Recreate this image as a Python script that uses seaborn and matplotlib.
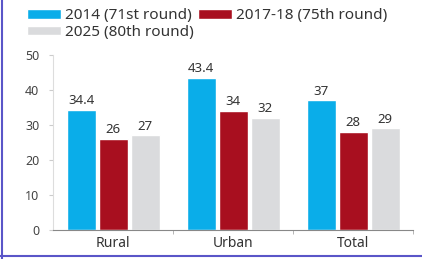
import pandas as pd
import numpy as np
import matplotlib.pyplot as plt
import seaborn as sns
from matplotlib.lines import Line2D

# data
areas = ['Rural', 'Urban', 'Total']
rounds = ['2014 (71st round)', '2017-18 (75th round)', '2025 (80th round)']
r2014 = [34.4, 43.4, 37]
r2017 = [26, 34, 28]
r2025 = [27, 32, 29]
colors = ['#0AADE9', '#A80F1F', '#DADBDD']

df = pd.DataFrame({
    'area': areas * 3,
    'round': np.repeat(rounds, 3),
    'value': r2014 + r2017 + r2025,
})

sns.set_style('white')
plt.rcParams['font.family'] = ['Noto Sans', 'DejaVu Sans']

fig = plt.figure(figsize=(4.22, 2.59), dpi=100)
ax = fig.add_axes([0.126, 0.112, 0.853, 0.676])

sns.barplot(data=df, x='area', y='value', hue='round', palette=colors,
            width=0.8, gap=0.1, saturation=1, ax=ax, legend=True)

# value labels
for cont in ax.containers:
    ax.bar_label(cont, labels=[f'{v:g}' for v in cont.datavalues],
                 padding=2, fontsize=9.5, color='#333333')

ax.set_ylim(0, 50)
ax.set_xlim(-0.5, 2.5)
ax.set_yticks([0, 10, 20, 30, 40, 50])
ax.set_xlabel('')
ax.set_ylabel('')
ax.tick_params(axis='y', labelsize=9, labelcolor='#444444', length=3,
               color='#CCCCCC', pad=7, left=True)
ax.tick_params(axis='x', labelsize=10, labelcolor='#333333', length=0, pad=4)
# small marks between groups
ax.set_xticks([0.5, 1.5, 2.5], minor=True)
ax.tick_params(axis='x', which='minor', length=3, color='#AAAAAA', bottom=True)

for s in ['top', 'right']:
    ax.spines[s].set_visible(False)
ax.spines['left'].set_color('#DDDDDD')
ax.spines['bottom'].set_color('#888888')
ax.spines['left'].set_linewidth(0.8)
ax.spines['bottom'].set_linewidth(0.8)

handles, labels = ax.get_legend_handles_labels()
ax.get_legend().remove()
order = [0, 2, 1]  # legend fills by column: row 1 = 2014, 2017-18; row 2 = 2025
fig.legend([handles[i] for i in order], [labels[i] for i in order],
           loc='upper left', bbox_to_anchor=(0.035, 1.015),
           ncol=2, frameon=False, fontsize=11, handlelength=2.25,
           handleheight=0.55, handletextpad=0.25, columnspacing=0.25,
           labelspacing=0.08, borderpad=0.3, labelcolor='#333333')

# frame lines seen on the left and bottom edges
fig.add_artist(Line2D([0.004, 0.004], [0.0, 1.0], color='#5A55C8', lw=1.5,
                      transform=fig.transFigure))
fig.add_artist(Line2D([0.0, 1.0], [0.012, 0.012], color='#5A55C8', lw=1.5,
                      transform=fig.transFigure))

fig.savefig('out.png', dpi=100)
